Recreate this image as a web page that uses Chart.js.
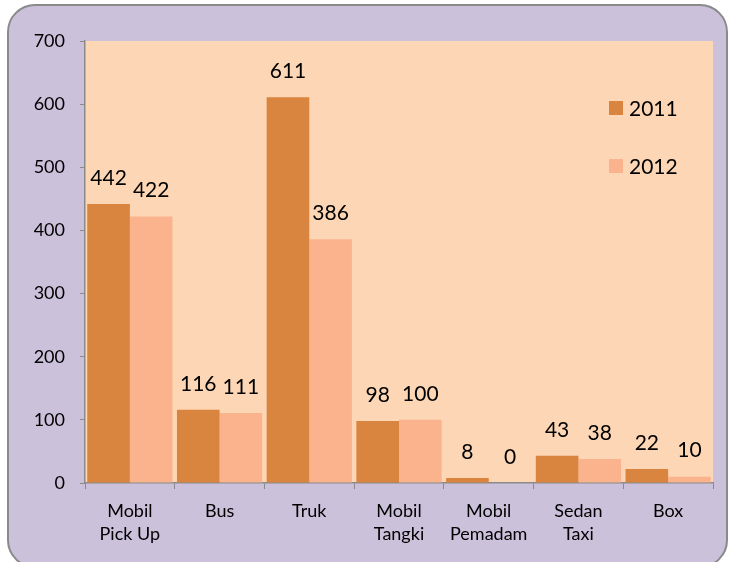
<!DOCTYPE html>
<html>
<head>
<meta charset="utf-8">
<script src="https://cdn.jsdelivr.net/npm/chart.js@4"></script>
<style>
  html, body { margin: 0; padding: 0; background: #fff; }
  #wrap { position: relative; width: 733px; height: 562px; overflow: hidden; }
  #panel {
    position: absolute; left: 7px; top: 4px; width: 717px; height: 560px;
    background: #ccc1da; border: 2px solid #8a8a8a; border-radius: 28px;
  }
  canvas { position: absolute; left: 0; top: 0; }
</style>
</head>
<body>
<div id="wrap">
  <div id="panel"></div>
  <canvas id="chart" width="733" height="562"></canvas>
</div>
<script>
const categories = [["Mobil", "Pick Up"], "Bus", "Truk", ["Mobil", "Tangki"], ["Mobil", "Pemadam"], ["Sedan", "Taxi"], "Box"]
const values2011 = [442, 116, 611, 98, 8, 43, 22]
const values2012 = [422, 111, 386, 100, 0, 38, 10]
const yTicks = [0, 100, 200, 300, 400, 500, 600, 700]

const FONT = 'Lato, "Open Sans", sans-serif'

// peach plot background
const plotBg = {
  id: 'plotBg',
  beforeDraw(chart) {
    const { ctx, chartArea: a } = chart
    ctx.save()
    ctx.fillStyle = '#fdd6b5'
    ctx.fillRect(a.left, a.top, a.right - a.left, a.bottom - a.top)
    ctx.restore()
  }
}

// numbers above the bars
const barLabels = {
  id: 'barLabels',
  afterDatasetsDraw(chart) {
    const { ctx } = chart
    ctx.save()
    ctx.font = '21px ' + FONT
    ctx.fillStyle = '#000'
    ctx.textAlign = 'center'
    ctx.textBaseline = 'middle'
    chart.data.datasets.forEach((ds, i) => {
      chart.getDatasetMeta(i).data.forEach((bar, j) => {
        ctx.fillText(String(ds.data[j]), bar.x, bar.y - 26)
      })
    })
    ctx.restore()
  }
}

// legend inside the plot area, stacked
const innerLegend = {
  id: 'innerLegend',
  afterDraw(chart) {
    const { ctx } = chart
    const rows = [108, 166]
    ctx.save()
    ctx.font = '21px ' + FONT
    ctx.textBaseline = 'middle'
    chart.data.datasets.forEach((ds, i) => {
      const y = rows[i]
      ctx.fillStyle = ds.backgroundColor
      ctx.fillRect(609, y - 7, 14, 14)
      ctx.fillStyle = '#000'
      ctx.fillText(ds.label, 629, y + 1)
    })
    ctx.restore()
  }
}

new Chart(document.getElementById('chart'), {
  type: 'bar',
  data: {
    labels: categories,
    datasets: [
      { label: '2011', data: values2011, backgroundColor: '#d9843f' },
      { label: '2012', data: values2012, backgroundColor: '#fab38d' }
    ]
  },
  options: {
    responsive: false,
    animation: false,
    layout: { padding: { left: 0, top: 41, right: 20, bottom: 0 } },
    datasets: { bar: { categoryPercentage: 0.95, barPercentage: 1 } },
    plugins: {
      legend: { display: false },
      tooltip: { enabled: false }
    },
    scales: {
      x: {
        afterFit: s => { s.height = 79 },
        grid: { drawOnChartArea: false, tickLength: 6, color: '#8a8a8a', offset: true },
        border: { color: '#8a8a8a', width: 1.5 },
        ticks: { color: '#000', font: { family: FONT, size: 18, lineHeight: 1.25 }, padding: 11, maxRotation: 0 }
      },
      y: {
        min: 0,
        max: 700,
        afterFit: s => { s.width = 85 },
        afterBuildTicks: s => { s.ticks = yTicks.map(v => ({ value: v })) },
        grid: { drawOnChartArea: false, tickLength: 5, color: '#8a8a8a' },
        border: { color: '#8a8a8a', width: 1.5 },
        ticks: { color: '#000', font: { family: FONT, size: 18 }, padding: 15 }
      }
    }
  },
  plugins: [plotBg, barLabels, innerLegend]
})
</script>
</body>
</html>
